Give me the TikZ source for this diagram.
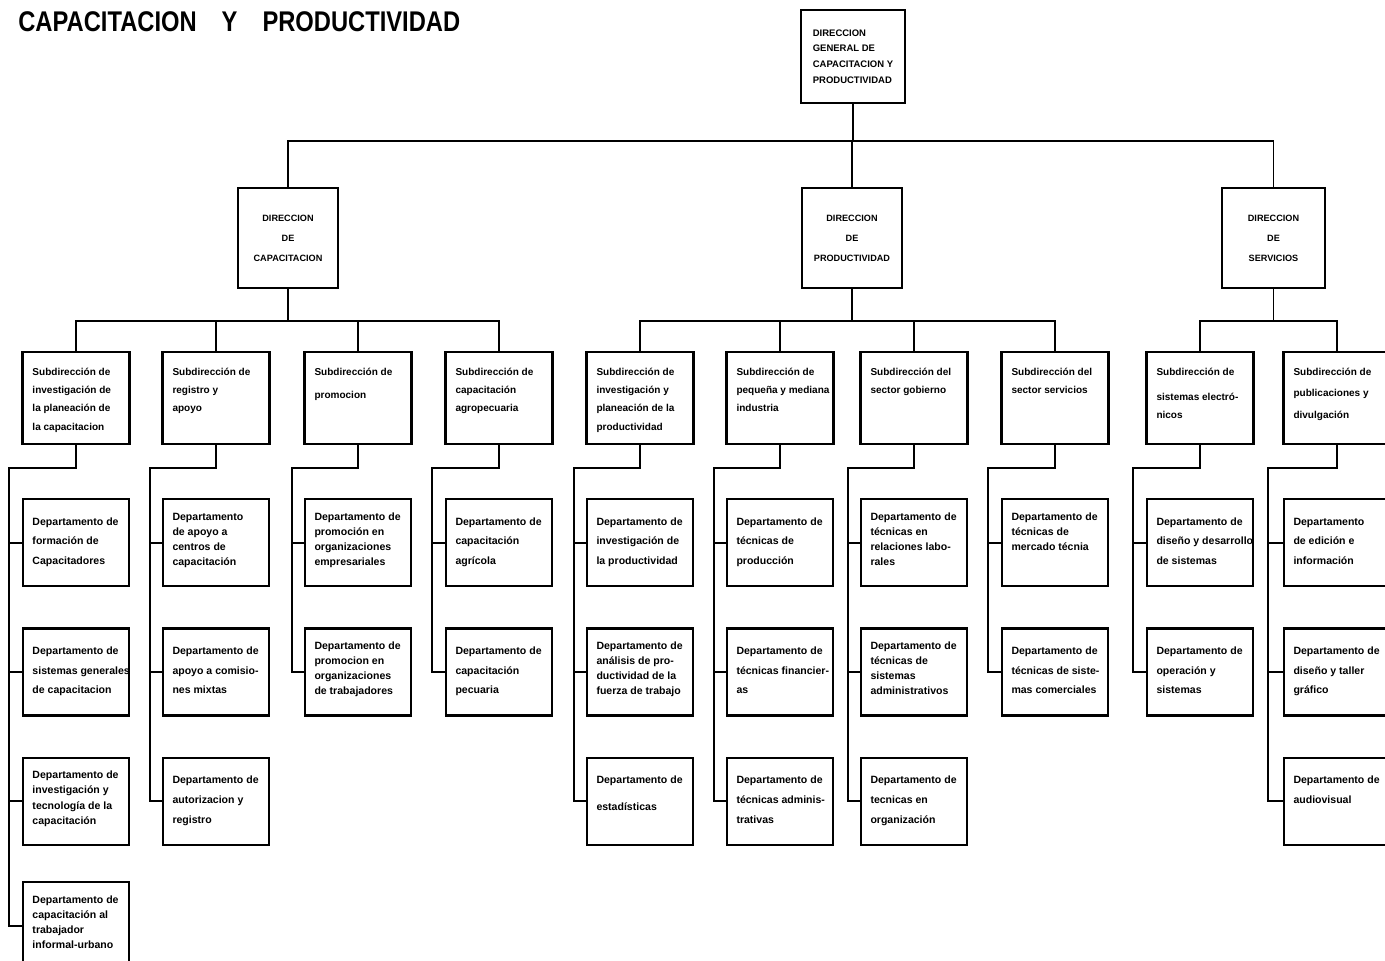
\documentclass[tikz,border=0pt]{standalone}
\usepackage{fontspec}
\setmainfont{Liberation Sans}
\usetikzlibrary{positioning}

% texto alineado arriba dentro de las cajas
\newcommand{\subtxt}[1]{\parbox[c][1.84cm][t]{1.74cm}{\fontsize{5.7}{10.5}\selectfont\bfseries\rule{0pt}{0.46cm}\begin{tabular}[t]{@{}l@{}}#1\end{tabular}}}
\newcommand{\deptxt}[1]{\parbox[c][1.74cm][t]{1.74cm}{\fontsize{6}{11.2}\selectfont\bfseries\rule{0pt}{0.52cm}\begin{tabular}[t]{@{}l@{}}#1\end{tabular}}}
\newcommand{\deptxtb}[1]{\parbox[c][1.74cm][t]{1.74cm}{\fontsize{6}{8.6}\selectfont\bfseries\rule{0pt}{0.42cm}\begin{tabular}[t]{@{}l@{}}#1\end{tabular}}}

\tikzstyle{general} = [
  rectangle, draw=black, line width=1.3pt, minimum width=2.08cm, minimum height=1.86cm,
  align=left, font=\fontsize{5.4}{9}\selectfont\bfseries
]
\tikzstyle{direccion} = [
  rectangle, draw=black, line width=1.3pt, minimum width=2cm, minimum height=2cm,
  align=center, font=\fontsize{5.2}{11.3}\selectfont\bfseries
]
\tikzstyle{subdir} = [
  rectangle, draw=black, line width=1.3pt, inner xsep=0.2cm, inner ysep=0pt,
  minimum width=2.14cm, minimum height=1.84cm
]
\tikzstyle{depto} = [
  rectangle, draw=black, line width=1.3pt, inner xsep=0.19cm, inner ysep=0pt,
  minimum width=2.12cm, minimum height=1.74cm
]
\tikzset{
  linea/.style={line width=1.1pt}
}

\begin{document}
\begin{tikzpicture}[node distance=0.8cm]

\clip (0,0) rectangle (27.7,-19.22);

% ------------------------------------------------
% TITULO Y DIRECCION GENERAL
% ------------------------------------------------

\node[anchor=west, inner sep=0pt, font=\fontsize{13.5}{15}\selectfont\bfseries] (titulo) at (0.36,-0.44)
  {\scalebox{1}[1.2]{CAPACITACION\hspace{0.5cm}Y\hspace{0.5cm}PRODUCTIVIDAD}};

\node[general] (g0) at (17.06,-1.13) {%
  DIRECCION\\
  GENERAL DE\\
  CAPACITACION Y\\
  PRODUCTIVIDAD
};

% ------------------------------------------------
% DIRECCIONES
% ------------------------------------------------

\node[direccion] (c1) at (5.76,-4.76) {DIRECCION\\DE\\CAPACITACION};
\node[direccion] (c2) at (17.04,-4.76) {DIRECCION\\DE\\PRODUCTIVIDAD};
\node[direccion, minimum width=2.06cm] (c3) at (25.47,-4.76) {DIRECCION\\DE\\SERVICIOS};

% ------------------------------------------------
% SUBDIRECCIONES
% ------------------------------------------------

\node[subdir] (s1) at (1.52,-7.96) {\subtxt{Subdirección de\\investigación de\\la planeación de\\la capacitacion}};
\node[subdir] (s2) at (4.32,-7.96) {\subtxt{Subdirección de\\registro y\\apoyo}};
\node[subdir] (s3) at (7.16,-7.96) {\subtxt{Subdirección de\\[3pt]promocion}};
\node[subdir] (s4) at (9.98,-7.96) {\subtxt{Subdirección de\\capacitación\\agropecuaria}};
\node[subdir] (s5) at (12.8,-7.96) {\subtxt{Subdirección de\\investigación y\\planeación de la\\productividad}};
\node[subdir] (s6) at (15.6,-7.96) {\subtxt{Subdirección de\\pequeña y mediana\\industria}};
\node[subdir] (s7) at (18.28,-7.96) {\subtxt{Subdirección del\\sector gobierno}};
\node[subdir] (s8) at (21.1,-7.96) {\subtxt{Subdirección del\\sector servicios}};
\node[subdir] (s9) at (24.0,-7.96) {\subtxt{Subdirección de\\[4pt]sistemas electró-\\nicos}};
\node[subdir] (s10) at (26.74,-7.96) {\subtxt{Subdirección de\\[2pt]publicaciones y\\[2pt]divulgación}};

% ------------------------------------------------
% DEPARTAMENTOS
% ------------------------------------------------

\node[depto, below=1.06cm of s1] (d11) {\deptxt{Departamento de\\formación de\\Capacitadores}};
\node[depto, below=of d11] (d12) {\deptxt{Departamento de\\sistemas generales\\de capacitacion}};
\node[depto, below=of d12] (d13) {\deptxtb{Departamento de\\investigación y\\tecnología de la\\capacitación}};
\node[depto, below=0.7cm of d13] (d14) {\deptxtb{Departamento de\\capacitación al\\trabajador\\informal-urbano}};

\node[depto, below=1.06cm of s2] (d21) {\deptxtb{Departamento\\de apoyo a\\centros de\\capacitación}};
\node[depto, below=of d21] (d22) {\deptxt{Departamento de\\apoyo a comisio-\\nes mixtas}};
\node[depto, below=of d22] (d23) {\deptxt{Departamento de\\autorizacion y\\registro}};

\node[depto, below=1.06cm of s3] (d31) {\deptxtb{Departamento de\\promoción en\\organizaciones\\empresariales}};
\node[depto, below=of d31] (d32) {\deptxtb{Departamento de\\promocion en\\organizaciones\\de trabajadores}};

\node[depto, below=1.06cm of s4] (d41) {\deptxt{Departamento de\\capacitación\\agrícola}};
\node[depto, below=of d41] (d42) {\deptxt{Departamento de\\capacitación\\pecuaria}};

\node[depto, below=1.06cm of s5] (d51) {\deptxt{Departamento de\\investigación de\\la productividad}};
\node[depto, below=of d51] (d52) {\deptxtb{Departamento de\\análisis de pro-\\ductividad de la\\fuerza de trabajo}};
\node[depto, below=of d52] (d53) {\deptxt{Departamento de\\[4pt]estadísticas}};

\node[depto, below=1.06cm of s6] (d61) {\deptxt{Departamento de\\técnicas de\\producción}};
\node[depto, below=of d61] (d62) {\deptxt{Departamento de\\técnicas financier-\\as}};
\node[depto, below=of d62] (d63) {\deptxt{Departamento de\\técnicas adminis-\\trativas}};

\node[depto, below=1.06cm of s7] (d71) {\deptxtb{Departamento de\\técnicas en\\relaciones labo-\\rales}};
\node[depto, below=of d71] (d72) {\deptxtb{Departamento de\\técnicas de\\sistemas\\administrativos}};
\node[depto, below=of d72] (d73) {\deptxt{Departamento de\\tecnicas en\\organización}};

\node[depto, below=1.06cm of s8] (d81) {\deptxtb{Departamento de\\técnicas de\\mercado técnia}};
\node[depto, below=of d81] (d82) {\deptxt{Departamento de\\técnicas de siste-\\mas comerciales}};

\node[depto, below=1.06cm of s9] (d91) {\deptxt{Departamento de\\diseño y desarrollo\\de sistemas}};
\node[depto, below=of d91] (d92) {\deptxt{Departamento de\\operación y\\sistemas}};

\node[depto, below=1.06cm of s10] (d101) {\deptxt{Departamento\\de edición e\\información}};
\node[depto, below=of d101] (d102) {\deptxt{Departamento de\\diseño y taller\\gráfico}};
\node[depto, below=of d102] (d103) {\deptxt{Departamento de\\audiovisual}};

% ------------------------------------------------
% LINEAS: DIRECCION GENERAL -> DIRECCIONES
% ------------------------------------------------

\draw[linea] (g0.south) -- ++(0,-0.74) coordinate (b0);
\draw[linea] (c1.north) |- (b0) -| (c3.north);
\draw[linea] (c2.north) -- (c2.north |- b0);

% ------------------------------------------------
% LINEAS: DIRECCIONES -> SUBDIRECCIONES
% ------------------------------------------------

\draw[linea] (c1.south) -- ++(0,-0.64) coordinate (b1);
\draw[linea] (s1.north) |- (b1) -| (s4.north);
\draw[linea] (s2.north) -- (s2.north |- b1);
\draw[linea] (s3.north) -- (s3.north |- b1);

\draw[linea] (c2.south) -- ++(0,-0.64) coordinate (b2);
\draw[linea] (s5.north) |- (b2) -| (s8.north);
\draw[linea] (s6.north) -- (s6.north |- b2);
\draw[linea] (s7.north) -- (s7.north |- b2);

\draw[linea] (c3.south) -- ++(0,-0.64) coordinate (b3);
\draw[linea] (s9.north) |- (b3) -| (s10.north);

% ------------------------------------------------
% LINEAS: SUBDIRECCIONES -> DEPARTAMENTOS
% ------------------------------------------------

\draw[linea] (s1.south) -- ++(0,-0.46) -| ([xshift=-0.26cm]d14.west) -- (d14.west);
\draw[linea] ([xshift=-0.26cm]d11.west) -- (d11.west);
\draw[linea] ([xshift=-0.26cm]d12.west) -- (d12.west);
\draw[linea] ([xshift=-0.26cm]d13.west) -- (d13.west);

\draw[linea] (s2.south) -- ++(0,-0.46) -| ([xshift=-0.24cm]d23.west) -- (d23.west);
\draw[linea] ([xshift=-0.24cm]d21.west) -- (d21.west);
\draw[linea] ([xshift=-0.24cm]d22.west) -- (d22.west);

\draw[linea] (s3.south) -- ++(0,-0.46) -| ([xshift=-0.24cm]d32.west) -- (d32.west);
\draw[linea] ([xshift=-0.24cm]d31.west) -- (d31.west);

\draw[linea] (s4.south) -- ++(0,-0.46) -| ([xshift=-0.26cm]d42.west) -- (d42.west);
\draw[linea] ([xshift=-0.26cm]d41.west) -- (d41.west);

\draw[linea] (s5.south) -- ++(0,-0.46) -| ([xshift=-0.24cm]d53.west) -- (d53.west);
\draw[linea] ([xshift=-0.24cm]d51.west) -- (d51.west);
\draw[linea] ([xshift=-0.24cm]d52.west) -- (d52.west);

\draw[linea] (s6.south) -- ++(0,-0.46) -| ([xshift=-0.24cm]d63.west) -- (d63.west);
\draw[linea] ([xshift=-0.24cm]d61.west) -- (d61.west);
\draw[linea] ([xshift=-0.24cm]d62.west) -- (d62.west);

\draw[linea] (s7.south) -- ++(0,-0.46) -| ([xshift=-0.24cm]d73.west) -- (d73.west);
\draw[linea] ([xshift=-0.24cm]d71.west) -- (d71.west);
\draw[linea] ([xshift=-0.24cm]d72.west) -- (d72.west);

\draw[linea] (s8.south) -- ++(0,-0.46) -| ([xshift=-0.26cm]d82.west) -- (d82.west);
\draw[linea] ([xshift=-0.26cm]d81.west) -- (d81.west);

\draw[linea] (s9.south) -- ++(0,-0.46) -| ([xshift=-0.26cm]d92.west) -- (d92.west);
\draw[linea] ([xshift=-0.26cm]d91.west) -- (d91.west);

\draw[linea] (s10.south) -- ++(0,-0.46) -| ([xshift=-0.3cm]d103.west) -- (d103.west);
\draw[linea] ([xshift=-0.3cm]d101.west) -- (d101.west);
\draw[linea] ([xshift=-0.3cm]d102.west) -- (d102.west);

\end{tikzpicture}
\end{document}
